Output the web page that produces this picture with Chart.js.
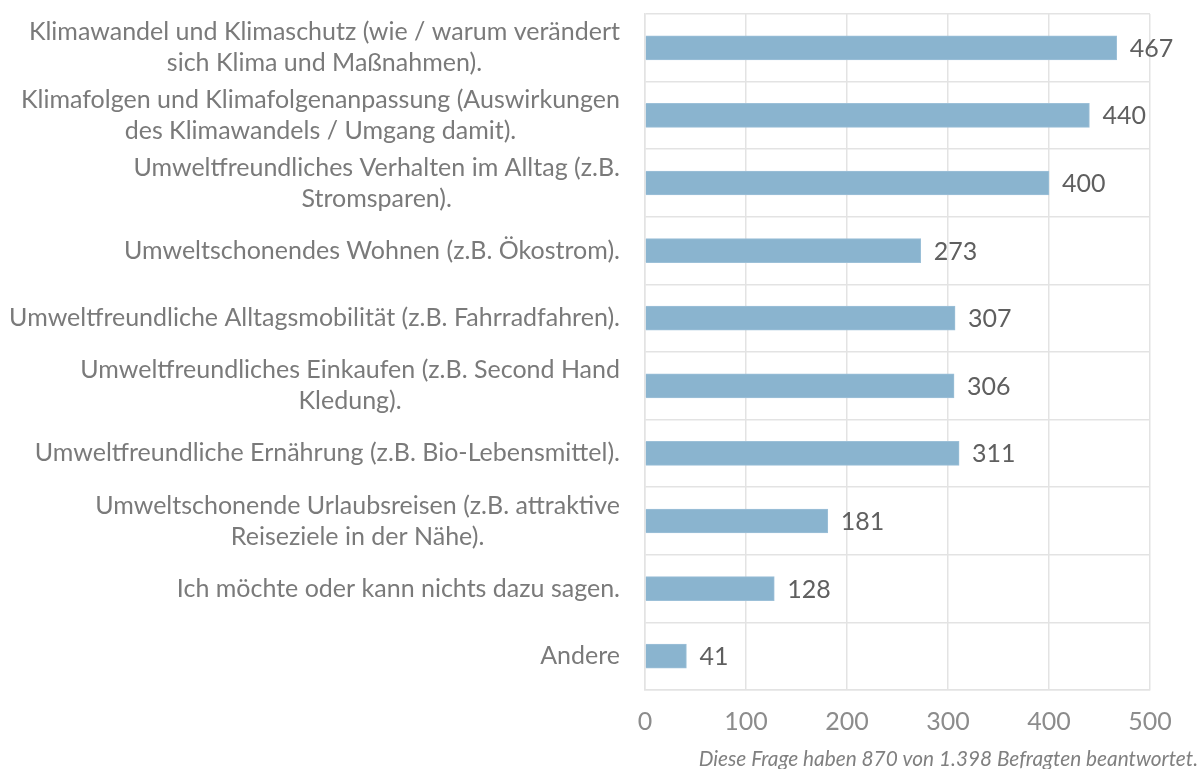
<!DOCTYPE html>
<html>
<head>
<meta charset="utf-8">
<script src="https://cdn.jsdelivr.net/npm/chart.js@4.4.1/dist/chart.umd.min.js"></script>
<style>
  html, body { margin: 0; padding: 0; background: #fff; }
  #wrap { width: 1200px; height: 769px; position: relative; }
</style>
</head>
<body>
<div id="wrap"><canvas id="myChart"></canvas></div>
<script>
// Antwortkategorien (mehrzeilig wie im Original)
const topicLabels = [
  ['Klimawandel und Klimaschutz (wie / warum verändert', 'sich Klima und Maßnahmen).'],
  ['Klimafolgen und Klimafolgenanpassung (Auswirkungen', 'des Klimawandels / Umgang damit).'],
  ['Umweltfreundliches Verhalten im Alltag (z.B.', 'Stromsparen).'],
  ['Umweltschonendes Wohnen (z.B. Ökostrom).'],
  ['Umweltfreundliche Alltagsmobilität (z.B. Fahrradfahren).'],
  ['Umweltfreundliches Einkaufen (z.B. Second Hand', 'Kledung).'],
  ['Umweltfreundliche Ernährung (z.B. Bio-Lebensmittel).'],
  ['Umweltschonende Urlaubsreisen (z.B. attraktive', 'Reiseziele in der Nähe).'],
  ['Ich möchte oder kann nichts dazu sagen.'],
  ['Andere'],
];

// Anzahl Nennungen
const topicCounts = [467, 440, 400, 273, 307, 306, 311, 181, 128, 41];

const xTicks = [0, 100, 200, 300, 400, 500];
const footnote = 'Diese Frage haben 870 von 1.398 Befragten beantwortet.';

const barColor = '#8ab4cf';
const fontFam = 'Lato, "Open Sans", sans-serif';

// Kategorien links: Block rechtsbündig, Zeilen zentriert
const catLabelPlugin = {
  id: 'catLabels',
  afterDraw(chart) {
    const { ctx } = chart;
    const yScale = chart.scales.y;
    const right = 620;
    const lineH = 31;
    ctx.save();
    ctx.font = '25px ' + fontFam;
    ctx.fillStyle = '#7a7a7a';
    ctx.textAlign = 'center';
    ctx.textBaseline = 'middle';
    topicLabels.forEach((lines, i) => {
      const yc = yScale.getPixelForValue(i);
      const w = Math.max(...lines.map(l => ctx.measureText(l).width));
      const cx = right - w / 2;
      const y0 = yc - (lines.length - 1) * lineH / 2;
      lines.forEach((l, j) => ctx.fillText(l, cx, y0 + j * lineH));
    });
    ctx.restore();
  }
};

// Werte am Balkenende + Fußnote
const valueLabelPlugin = {
  id: 'valueLabels',
  afterDatasetsDraw(chart) {
    const { ctx } = chart;
    const meta = chart.getDatasetMeta(0);
    ctx.save();
    ctx.font = '25px ' + fontFam;
    ctx.fillStyle = '#5f5f5f';
    ctx.textAlign = 'left';
    ctx.textBaseline = 'middle';
    meta.data.forEach((bar, i) => {
      ctx.fillText(String(topicCounts[i]), bar.x + 13, bar.y + 1);
    });
    ctx.font = 'italic 20.8px ' + fontFam;
    ctx.fillStyle = '#808080';
    ctx.textAlign = 'right';
    ctx.fillText(footnote, 1198, 759);
    ctx.restore();
  }
};

new Chart(document.getElementById('myChart').getContext('2d'), {
  type: 'bar',
  data: {
    labels: topicLabels.map(l => l.join(' ')),
    datasets: [{
      data: topicCounts,
      backgroundColor: barColor,
      borderColor: '#9cc0d8',
      borderWidth: 1,
      barThickness: 24,
    }]
  },
  plugins: [catLabelPlugin, valueLabelPlugin],
  options: {
    indexAxis: 'y',
    responsive: true,
    maintainAspectRatio: false,
    animation: false,
    layout: { padding: { left: 0, right: 50, top: 14, bottom: 0 } },
    plugins: {
      legend: { display: false },
      tooltip: { enabled: false },
    },
    scales: {
      x: {
        min: 0,
        max: 500,
        afterBuildTicks(scale) { scale.ticks = xTicks.map(v => ({ value: v })); },
        afterFit(scale) { scale.height = 79; },
        grid: { color: '#e3e3e3', lineWidth: 1.5, drawTicks: false },
        border: { display: true, color: '#e3e3e3', width: 1.5 },
        ticks: { padding: 17, color: '#8c8c8c', font: { family: fontFam, size: 25 } },
      },
      y: {
        afterFit(scale) { scale.width = 645; },
        grid: { color: '#e3e3e3', lineWidth: 1.5, drawTicks: false, offset: true },
        border: { display: true, color: '#e3e3e3', width: 1.5 },
        ticks: { display: false },
      }
    }
  }
});
</script>
</body>
</html>
